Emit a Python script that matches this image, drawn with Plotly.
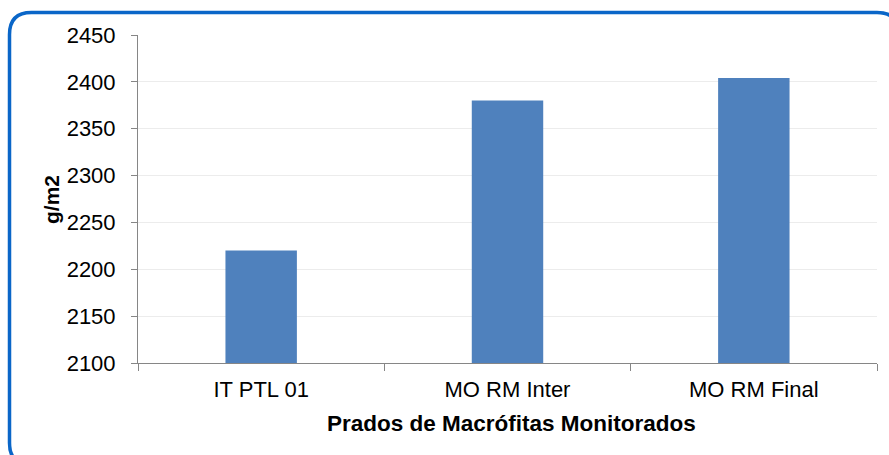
import plotly.graph_objects as go

categories = ["IT PTL 01", "MO RM Inter", "MO RM Final"]
values = [2220, 2380, 2404]
y_ticks = [2100, 2150, 2200, 2250, 2300, 2350, 2400, 2450]

W, H = 889, 455
L, R, T, B = 138, 877, 35, 363
pw, ph = R - L, B - T

def px(x):
    return (x - L) / pw

def py(y):
    return (B - y) / ph

FONT = "Liberation Sans, Arial, sans-serif"

fig = go.Figure()
fig.add_trace(go.Bar(x=categories, y=values, marker=dict(color="#4f81bd", line=dict(width=0)),
                     showlegend=False, hoverinfo="skip"))

# rounded border
x0, x1, y0, y1, r = 9.5, 899, 12.5, 465, 22
path = (f"M {px(x0+r)},{py(y0)} L {px(x1-r)},{py(y0)} Q {px(x1)},{py(y0)} {px(x1)},{py(y0+r)} "
        f"L {px(x1)},{py(y1-r)} Q {px(x1)},{py(y1)} {px(x1-r)},{py(y1)} "
        f"L {px(x0+r)},{py(y1)} Q {px(x0)},{py(y1)} {px(x0)},{py(y1-r)} "
        f"L {px(x0)},{py(y0+r)} Q {px(x0)},{py(y0)} {px(x0+r)},{py(y0)} Z")
fig.add_shape(type="path", path=path, xref="paper", yref="paper",
              line=dict(color="#0a66c8", width=3.5), layer="above")

fig.update_layout(
    width=W, height=H,
    margin=dict(l=L, r=W - R, t=T, b=H - B),
    paper_bgcolor="white", plot_bgcolor="white",
    bargap=0.71,
    font=dict(family=FONT, color="black"),
    xaxis=dict(showline=True, linecolor="#868686", linewidth=1, ticks="outside",
               tickson="boundaries", ticklen=7, tickcolor="#868686",
               tickfont=dict(size=22, family=FONT, color="black"), showgrid=False,
               ticklabelstandoff=7),
    yaxis=dict(range=[2100, 2450], tickvals=y_ticks, showline=True, linecolor="#868686",
               linewidth=1, ticks="outside", ticklen=6, tickcolor="#868686",
               tickfont=dict(size=22, family=FONT, color="black"),
               showgrid=True, gridcolor="#ececec", gridwidth=1, zeroline=False,
               ticklabelstandoff=11),
    annotations=[
        dict(text="<b>Prados de Macrófitas Monitorados</b>", xref="paper", yref="paper",
             x=px(511), y=py(423), showarrow=False, xanchor="center", yanchor="middle",
             font=dict(size=22.5, family=FONT, color="black")),
        dict(text="<b>g/m2</b>", xref="paper", yref="paper", x=px(51), y=py(200),
             showarrow=False, textangle=-90, xanchor="center", yanchor="middle",
             font=dict(size=21, family=FONT, color="black")),
    ],
)

fig.write_html("out.html", config={"displayModeBar": False},
               post_script="document.body.style.margin='0';document.body.style.overflow='hidden';")
